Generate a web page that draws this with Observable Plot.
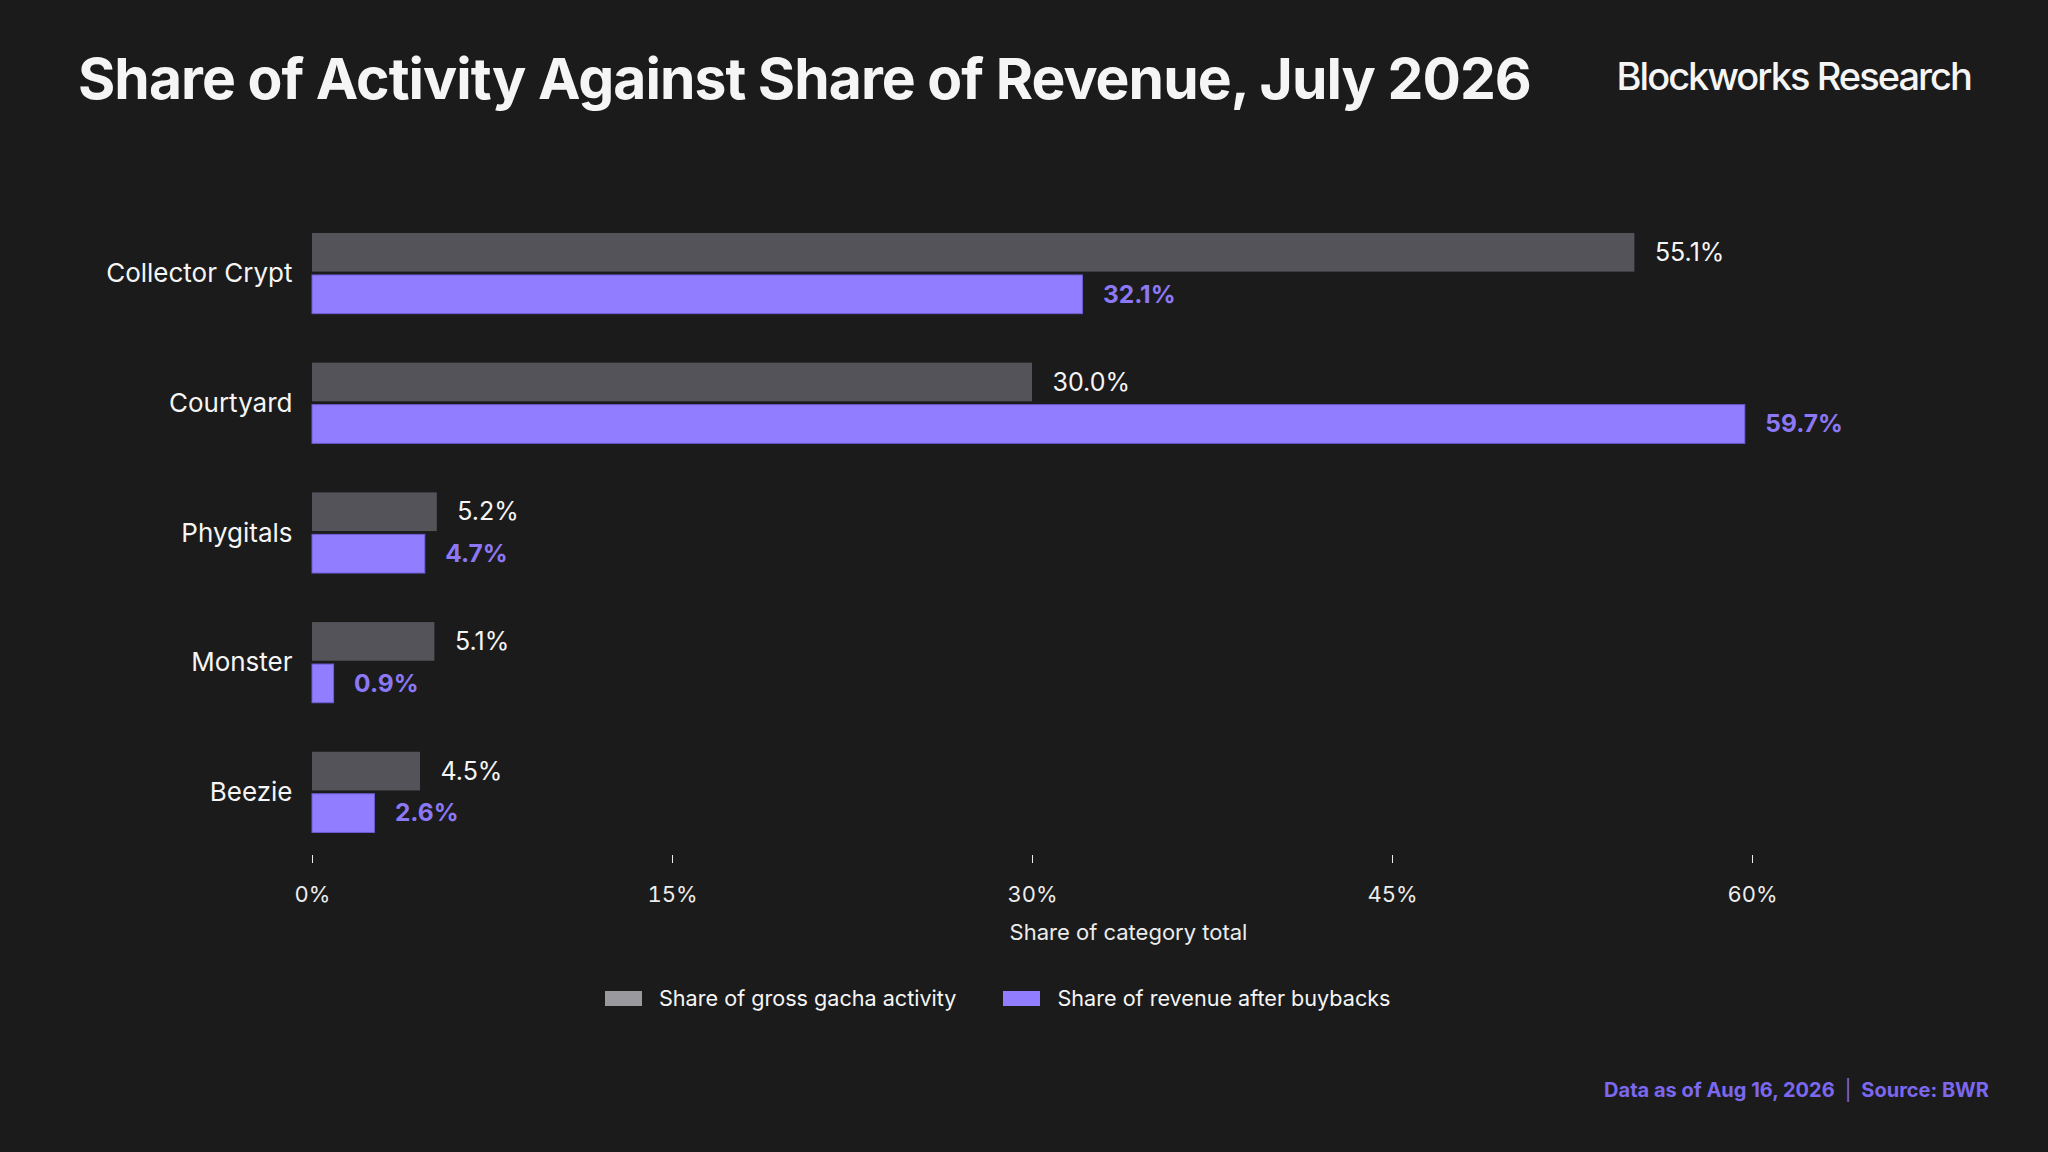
<!DOCTYPE html>
<html>
<head>
<meta charset="utf-8">
<script src="https://cdn.jsdelivr.net/npm/d3@7"></script>
<script src="https://cdn.jsdelivr.net/npm/@observablehq/plot@0.6"></script>
<style>
  html, body { margin: 0; padding: 0; background: #1b1b1b; }
  body { width: 2048px; height: 1152px; position: relative; overflow: hidden; font-family: Inter, "Noto Sans", sans-serif; color: #f5f5f5; }
  #title { position: absolute; left: 78px; top: 50px; font-size: 57px; line-height: 57px; font-weight: 700; letter-spacing: -0.95px; white-space: nowrap; }
  #brand { position: absolute; right: 77px; top: 57px; font-size: 38px; line-height: 38px; font-weight: 500; letter-spacing: -1.95px; white-space: nowrap; }
  #chart { position: absolute; left: 0; top: 150px; }
  #legend { position: absolute; left: 605px; top: 988px; display: flex; align-items: center; font-size: 21.6px; line-height: 21px; white-space: nowrap; }
  .item { display: flex; align-items: center; margin-right: 47px; }
  .sw { width: 37px; height: 15px; margin-right: 17px; }
  #footer { position: absolute; right: 59px; top: 1080px; font-size: 20px; line-height: 20px; font-weight: 700; color: #7b68ee; white-space: nowrap; }
  #footer .sep { margin: 0 10px; font-weight: 400; }
</style>
</head>
<body>
<div id="title">Share of Activity Against Share of Revenue, July 2026</div>
<div id="brand">Blockworks Research</div>
<div id="chart"></div>
<div id="legend"></div>
<div id="footer">Data as of Aug 16, 2026<span class="sep">|</span>Source: BWR</div>
<script>
const categories = ["Collector Crypt", "Courtyard", "Phygitals", "Monster", "Beezie"];
const activityShare = [55.1, 30.0, 5.2, 5.1, 4.5];
const revenueShare = [32.1, 59.7, 4.7, 0.9, 2.6];
const seriesNames = ["Share of gross gacha activity", "Share of revenue after buybacks"];
const seriesColors = ["#54535a", "#917dff"];
const legendColors = ["#9a999e", "#917dff"];
const xTicks = [0, 15, 30, 45, 60];
const axisTitle = "Share of category total";

const rows = categories.map((c, i) => ({category: c, activity: activityShare[i], revenue: revenueShare[i]}));
const pct = v => v.toFixed(1) + "%";

const chart = Plot.plot({
  width: 2048,
  height: 820,
  marginLeft: 312,
  marginRight: 104,
  marginTop: 60.4,
  marginBottom: 115,
  style: {background: "transparent", color: "#ececec", fontFamily: "Inter, 'Noto Sans', sans-serif", fontSize: "22px"},
  x: {domain: [0, 68], label: null},
  y: {domain: categories, paddingInner: 0.378, paddingOuter: 0.174, round: false, label: null},
  marks: [
    Plot.barX(rows, {y: "category", x: "activity", fill: seriesColors[0], insetBottom: 42}),
    Plot.barX(rows, {y: "category", x: "revenue", fill: seriesColors[1], stroke: "#6e5ed6", strokeWidth: 1, insetTop: 42}),
    Plot.text(rows, {y: "category", x: "activity", text: d => pct(d.activity), dx: 20, dy: -21, textAnchor: "start", fill: "#f5f5f5", fontSize: 25}),
    Plot.text(rows, {y: "category", x: "revenue", text: d => pct(d.revenue), dx: 20, dy: 21, textAnchor: "start", fill: "#8c78f5", fontSize: 24.5, fontWeight: 700}),
    Plot.axisX({ticks: xTicks, tickFormat: d => d + "%", tickSize: 8, tickPadding: 23, label: null, fontSize: 22}),
    Plot.text([axisTitle], {frameAnchor: "bottom", dy: 84, lineAnchor: "bottom", text: d => d, fontSize: 22, fill: "#ececec"}),
    Plot.axisY({tickSize: 0, tickPadding: 20, fontSize: 26, label: null, fill: "#f5f5f5"})
  ]
});
document.getElementById("chart").appendChild(chart);

const legend = document.getElementById("legend");
seriesNames.forEach((name, i) => {
  const item = document.createElement("div");
  item.className = "item";
  const sw = document.createElement("div");
  sw.className = "sw";
  sw.style.background = legendColors[i];
  const label = document.createElement("span");
  label.textContent = name;
  item.appendChild(sw);
  item.appendChild(label);
  legend.appendChild(item);
});
</script>
</body>
</html>
